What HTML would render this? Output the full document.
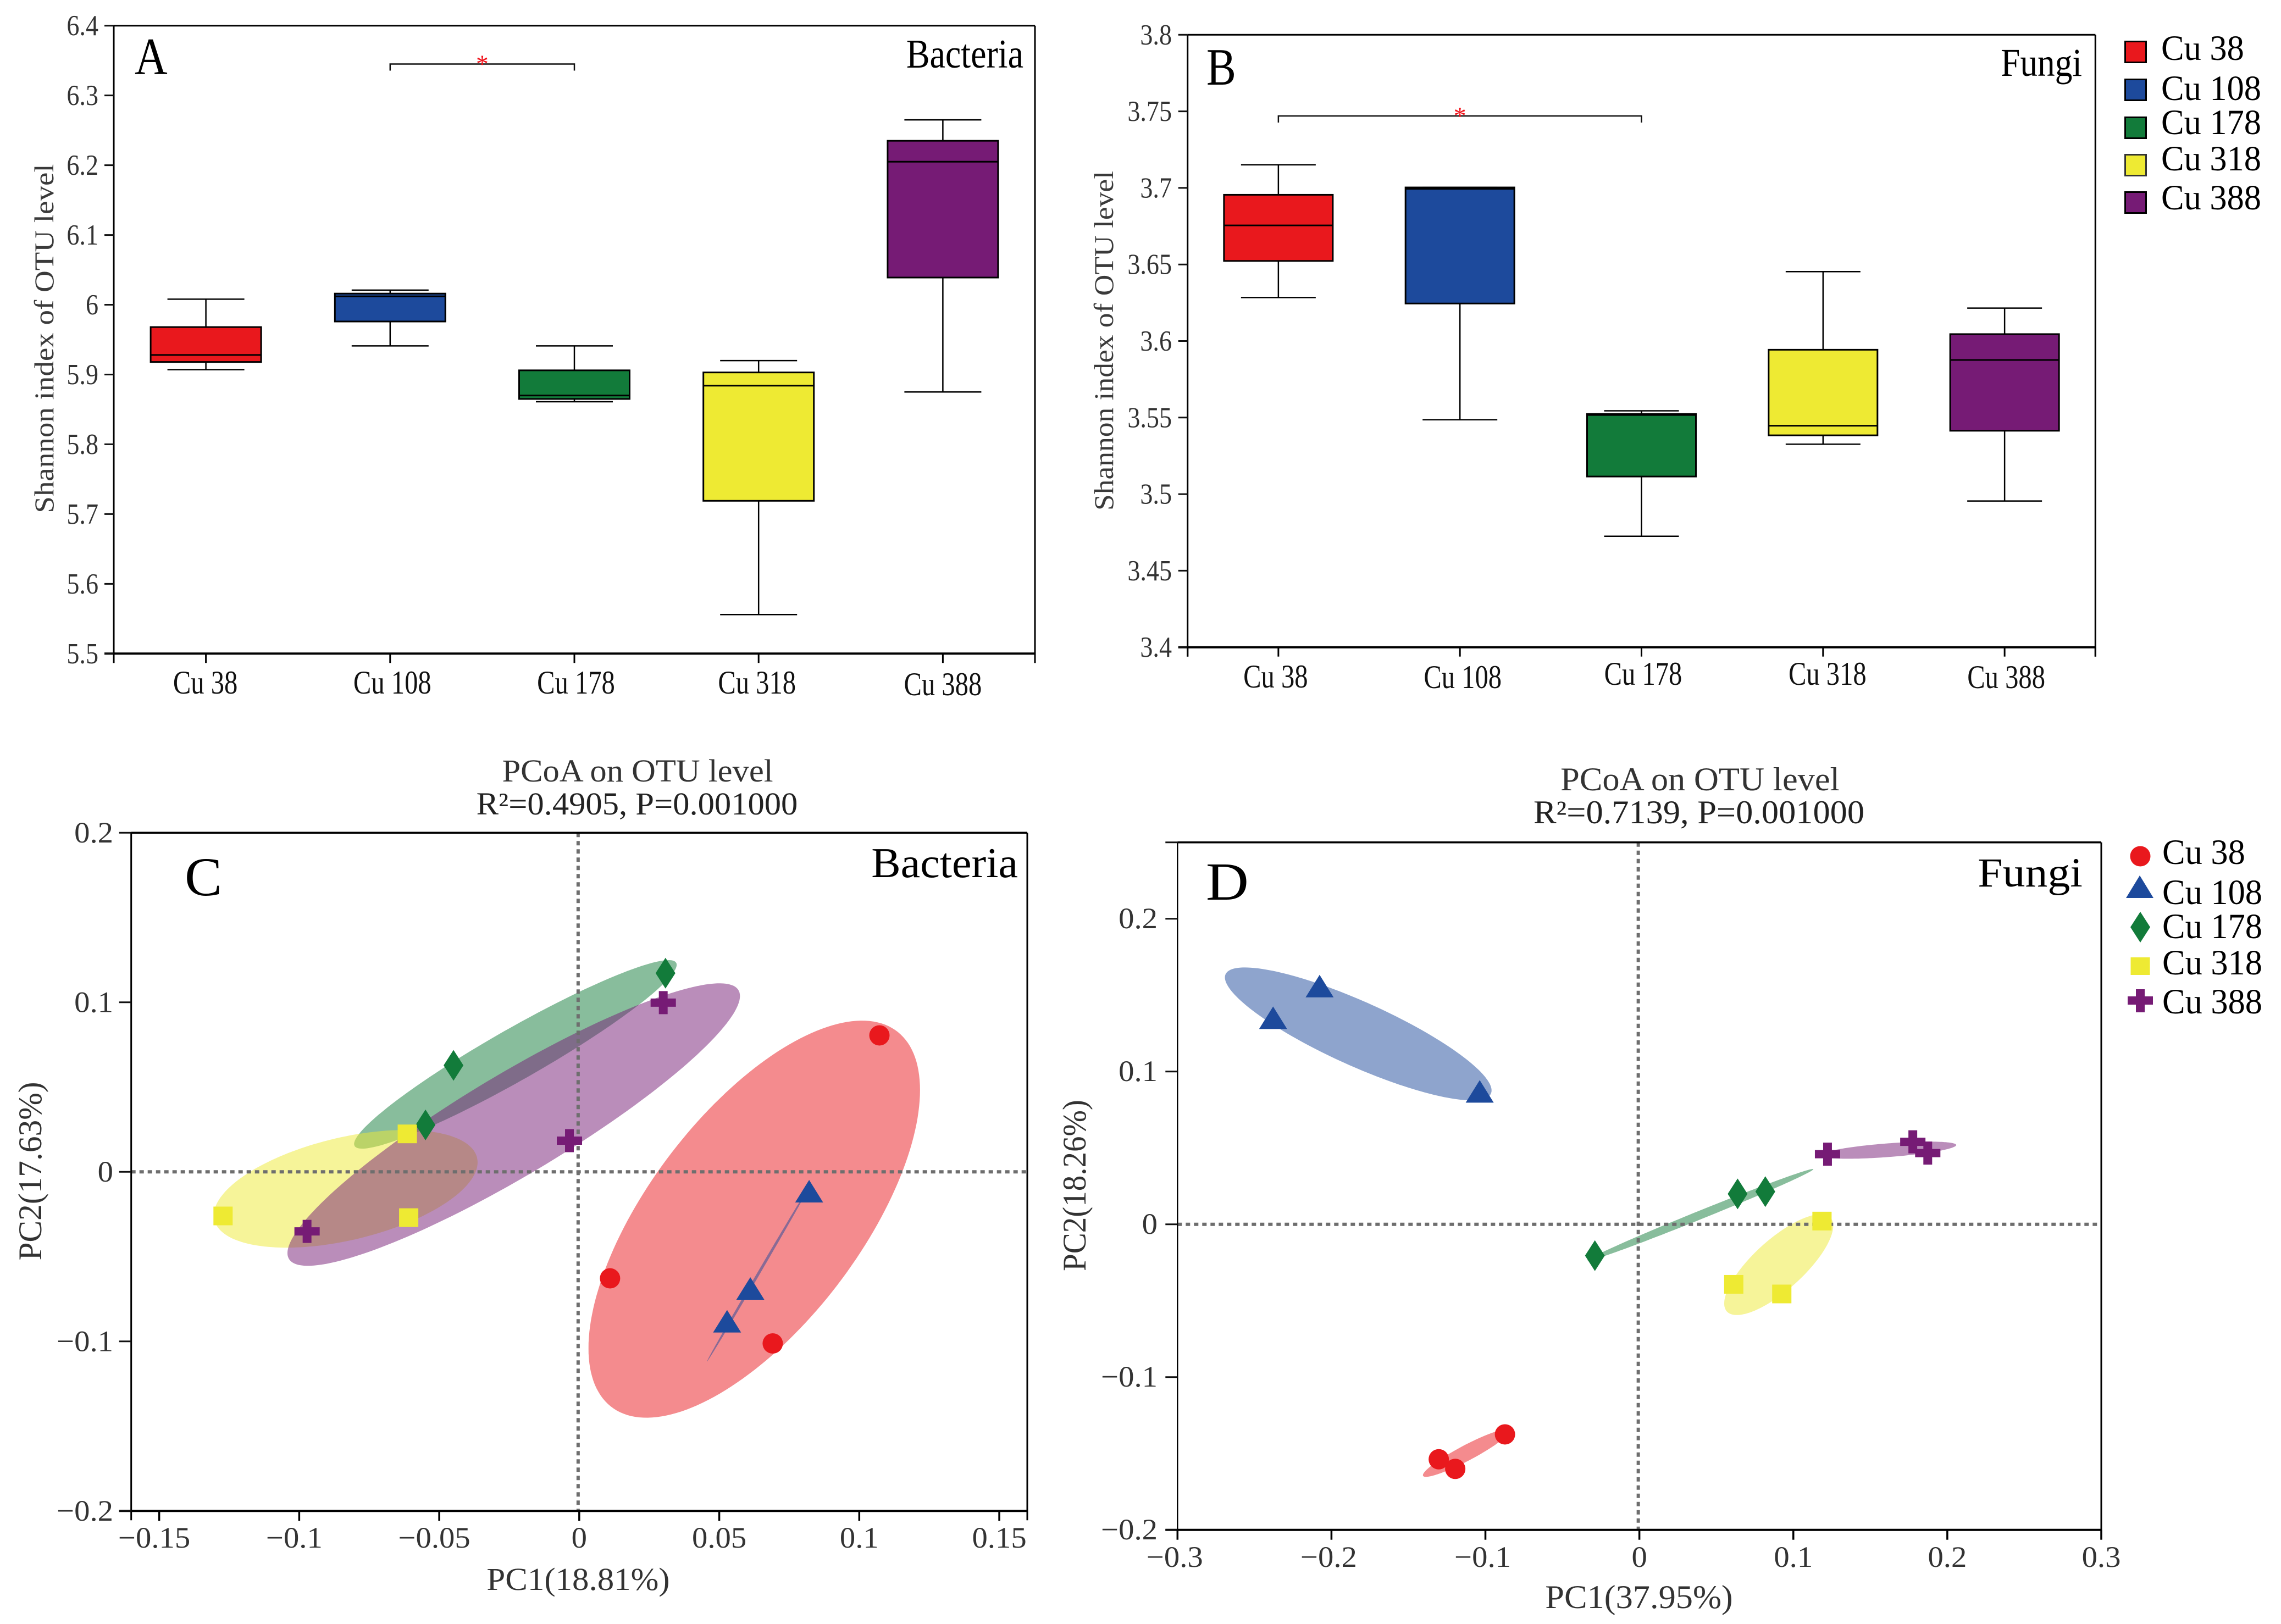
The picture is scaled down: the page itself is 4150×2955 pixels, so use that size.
<!DOCTYPE html>
<html lang="en">
<head>
<meta charset="utf-8">
<title>Shannon index and PCoA of bacteria and fungi across Cu levels</title>
<style>
html,body{margin:0;padding:0;background:#fff;}
svg{display:block;}
text{font-family:"Liberation Serif","DejaVu Serif",serif;}
</style>
</head>
<body>
<svg id="fig" xmlns="http://www.w3.org/2000/svg" width="4150" height="2955" viewBox="0 0 4150 2955">
  <rect x="0" y="0" width="4150" height="2955" fill="#ffffff"/>

  <g id="panelA"></g>
  <g id="panelB"></g>
  <g id="panelC"></g>
  <g id="panelD"></g>

  <!-- Panel A text -->
  <text transform="translate(245,135) scale(0.87,1)" font-size="95" fill="#000">A</text>
  <text transform="translate(1862,123) scale(0.865,1)" font-size="74" text-anchor="end" fill="#000">Bacteria</text>
  <text transform="translate(97,616) rotate(-90) scale(1.1,1)" font-size="50" text-anchor="middle" fill="#3a3a3a">Shannon index of OTU level</text>

  <!-- Panel B text -->
  <text transform="translate(2195,154) scale(0.85,1)" font-size="95" fill="#000">B</text>
  <text transform="translate(3788,138) scale(0.88,1)" font-size="72" text-anchor="end" fill="#000">Fungi</text>
  <text transform="translate(2025,620) rotate(-90) scale(1.07,1)" font-size="50" text-anchor="middle" fill="#3a3a3a">Shannon index of OTU level</text>

  <!-- Boxplot legend -->
  <g>
    <rect x="3866.5" y="75.5" width="38" height="38" fill="#e9181d" stroke="#000" stroke-width="3"/>
    <text transform="translate(3932,109) scale(0.96,1)" font-size="65" fill="#000">Cu 38</text>
    <rect x="3866.5" y="144.5" width="38" height="38" fill="#1d4a9c" stroke="#000" stroke-width="3"/>
    <text transform="translate(3932,182) scale(0.96,1)" font-size="65" fill="#000">Cu 108</text>
    <rect x="3866.5" y="213.5" width="38" height="38" fill="#127b3a" stroke="#000" stroke-width="3"/>
    <text transform="translate(3932,244) scale(0.96,1)" font-size="65" fill="#000">Cu 178</text>
    <rect x="3866.5" y="281.5" width="38" height="38" fill="#eeea33" stroke="#333" stroke-width="3"/>
    <text transform="translate(3932,310) scale(0.96,1)" font-size="65" fill="#000">Cu 318</text>
    <rect x="3866.5" y="349.5" width="38" height="38" fill="#761b75" stroke="#000" stroke-width="3"/>
    <text transform="translate(3932,381) scale(0.96,1)" font-size="65" fill="#000">Cu 388</text>
  </g>

  <!-- Panel C text -->
  <text transform="translate(1160,1422) scale(1.045,1)" font-size="58" text-anchor="middle" fill="#333">PCoA on OTU level</text>
  <text transform="translate(1159,1482) scale(1.045,1)" font-size="58" text-anchor="middle" fill="#222">R²=0.4905, P=0.001000</text>
  <text transform="translate(336,1629) scale(1.02,1)" font-size="100" fill="#000">C</text>
  <text transform="translate(1852,1596) scale(1.04,1)" font-size="77" text-anchor="end" fill="#000">Bacteria</text>
  <text transform="translate(1052,2893) scale(1.05,1)" font-size="58" text-anchor="middle" fill="#333">PC1(18.81%)</text>
  <text transform="translate(75,2131) rotate(-90) scale(0.99,1)" font-size="60" text-anchor="middle" fill="#333">PC2(17.63%)</text>

  <!-- Panel D text -->
  <text transform="translate(3093,1438) scale(1.04,1)" font-size="60" text-anchor="middle" fill="#333">PCoA on OTU level</text>
  <text transform="translate(3091,1498) scale(1.04,1)" font-size="60" text-anchor="middle" fill="#222">R²=0.7139, P=0.001000</text>
  <text transform="translate(2194,1637) scale(1.1,1)" font-size="98" fill="#000">D</text>
  <text transform="translate(3789,1613) scale(1.09,1)" font-size="75" text-anchor="end" fill="#000">Fungi</text>
  <text transform="translate(2982,2926) scale(1.04,1)" font-size="60" text-anchor="middle" fill="#333">PC1(37.95%)</text>
  <text transform="translate(1975,2157) rotate(-90) scale(0.95,1)" font-size="60" text-anchor="middle" fill="#333">PC2(18.26%)</text>

  <!-- PCoA legend -->
  <g>
    <circle cx="3894" cy="1558" r="18.5" fill="#e9181d"/>
    <text transform="translate(3934,1572) scale(0.96,1)" font-size="65" fill="#000">Cu 38</text>
    <polygon points="3893,1593 3868,1634 3918,1634" fill="#1d4a9c"/>
    <text transform="translate(3934,1645) scale(0.96,1)" font-size="65" fill="#000">Cu 108</text>
    <polygon points="3894,1659 3912,1687 3894,1715 3876,1687" fill="#127b3a"/>
    <text transform="translate(3934,1707) scale(0.96,1)" font-size="65" fill="#000">Cu 178</text>
    <rect x="3876.5" y="1742" width="35" height="32" fill="#eeea33"/>
    <text transform="translate(3934,1773) scale(0.96,1)" font-size="65" fill="#000">Cu 318</text>
    <path d="M3886,1800h16v13h15v15h-15v14h-16v-14h-15v-15h15z" fill="#761b75"/>
    <text transform="translate(3934,1844) scale(0.96,1)" font-size="65" fill="#000">Cu 388</text>
  </g>
</svg>

<script>
/* ---------- shared categories ---------- */
const categories = ['Cu 38', 'Cu 108', 'Cu 178', 'Cu 318', 'Cu 388'];
const categorySlugs = ['cu-38', 'cu-108', 'cu-178', 'cu-318', 'cu-388'];

/* ---------- panel A values (Shannon, bacteria) ---------- */
const aLow  = [5.907, 5.941, 5.861, 5.556, 5.875];
const aQ1   = [5.918, 5.976, 5.865, 5.719, 6.039];
const aMed  = [5.928, 6.012, 5.870, 5.884, 6.205];
const aQ3   = [5.968, 6.016, 5.906, 5.903, 6.235];
const aHigh = [6.008, 6.021, 5.941, 5.920, 6.265];
const aTicks = [5.5, 5.6, 5.7, 5.8, 5.9, 6.0, 6.1, 6.2, 6.3, 6.4];
const aTickLabels = ['5.5', '5.6', '5.7', '5.8', '5.9', '6', '6.1', '6.2', '6.3', '6.4'];
const aSigValue = 6.345;
const aSigPair = [1, 2];

/* ---------- panel B values (Shannon, fungi) ---------- */
const bLow  = [3.6284, 3.5486, 3.4725, 3.5326, 3.4955];
const bQ1   = [3.6523, 3.6245, 3.5115, 3.5384, 3.5414];
const bMed  = [3.6755, 3.6994, 3.5517, 3.5447, 3.5876];
const bQ3   = [3.6955, 3.7003, 3.5523, 3.5943, 3.6045];
const bHigh = [3.7151, 3.7003, 3.5544, 3.6453, 3.6215];
const bTicks = [3.4, 3.45, 3.5, 3.55, 3.6, 3.65, 3.7, 3.75, 3.8];
const bTickLabels = ['3.4', '3.45', '3.5', '3.55', '3.6', '3.65', '3.7', '3.75', '3.8'];
const bSigValue = 3.747;
const bSigPair = [0, 2];

/* ---------- panel C values (PCoA, bacteria) ---------- */
const cPc1 = [
  [0.1072, 0.0110, 0.0691],
  [0.0821, 0.0611, 0.0528],
  [0.0308, -0.0449, -0.0549],
  [-0.0614, -0.1272, -0.0609],
  [0.0300, -0.0035, -0.0972]
];
const cPc2 = [
  [0.0805, -0.0628, -0.1012],
  [-0.0114, -0.0688, -0.0881],
  [0.1172, 0.0628, 0.0277],
  [0.0224, -0.0260, -0.0270],
  [0.0998, 0.0184, -0.0351]
];
const cEllCx  = [0.0625, 0.0636, -0.0228, -0.0834, -0.0234];
const cEllCy  = [-0.0279, -0.0611, 0.0693, -0.0100, 0.0279];
const cEllRx  = [0.0592, 0.0180, 0.0576, 0.0471, 0.0808];
const cEllRy  = [0.1171, 0.0508, 0.0556, 0.0347, 0.0833];
const cEllRho = [0.65, 0.9995, 0.95, 0.45, 0.91];
const cXTicks = [-0.15, -0.1, -0.05, 0, 0.05, 0.1, 0.15];
const cXTickLabels = ['\u22120.15', '\u22120.1', '\u22120.05', '0', '0.05', '0.1', '0.15'];
const cYTicks = [-0.2, -0.1, 0, 0.1, 0.2];
const cYTickLabels = ['\u22120.2', '\u22120.1', '0', '0.1', '0.2'];

/* ---------- panel D values (PCoA, fungi) ---------- */
const dPc1 = [
  [-0.0873, -0.1303, -0.1196],
  [-0.2077, -0.2379, -0.1037],
  [0.0638, 0.0818, -0.0289],
  [0.1186, 0.0613, 0.0925],
  [0.1222, 0.1776, 0.1873]
];
const dPc2 = [
  [-0.1375, -0.1538, -0.1601],
  [0.1559, 0.1352, 0.0870],
  [0.0199, 0.0214, -0.0205],
  [0.0021, -0.0393, -0.0456],
  [0.0459, 0.0540, 0.0466]
];
const dEllCx  = [-0.1124, -0.1826, 0.0397, 0.0905, 0.1617];
const dEllCy  = [-0.1497, 0.1246, 0.0062, -0.0264, 0.0485];
const dEllRx  = [0.0282, 0.0866, 0.0733, 0.0354, 0.0441];
const dEllRy  = [0.0156, 0.0435, 0.0300, 0.0330, 0.0056];
const dEllRho = [0.93, -0.85, 0.995, 0.77, 0.6];
const dXTicks = [-0.3, -0.2, -0.1, 0, 0.1, 0.2, 0.3];
const dXTickLabels = ['\u22120.3', '\u22120.2', '\u22120.1', '0', '0.1', '0.2', '0.3'];
const dYTicks = [-0.2, -0.1, 0, 0.1, 0.2, 0.25];
const dYTickLabels = ['\u22120.2', '\u22120.1', '0', '0.1', '0.2', ''];

/* ---------- styling ---------- */
const groupColors = ['#e9181d', '#1d4a9c', '#127b3a', '#eeea33', '#761b75'];
const markerTypes = ['circle', 'triangle', 'diamond', 'square', 'cross'];

const NS = 'http://www.w3.org/2000/svg';

function mk(parent, tag, name, props) {
  const el = document.createElementNS(NS, tag);
  
  
  for (const k in props) { el.setAttribute(k, props[k]); }
  parent.appendChild(el);
  return el;
}
function line(parent, name, x1, y1, x2, y2, w, color) {
  return mk(parent, 'line', name, { x1, y1, x2, y2, stroke: color || '#000', 'stroke-width': w });
}
function label(parent, name, str, x, y, size, sx, anchor, color) {
  const t = mk(parent, 'text', name, {
    transform: 'translate(' + x + ',' + y + ') scale(' + sx + ',1)',
    'font-size': size,
    'text-anchor': anchor,
    fill: color
  });
  t.textContent = str;
  return t;
}
function linear(d0, d1, r0, r1) {
  return function (v) { return r0 + (v - d0) * (r1 - r0) / (d1 - d0); };
}

/* ---------- boxplot panels ---------- */
function drawBoxPanel(opt) {
  const g = document.getElementById(opt.id);
  const y = linear(opt.yMin, opt.yMax, opt.bottom, opt.top);
  const band = (opt.right - opt.left) / categories.length;
  const cx = function (i) { return opt.left + band * (i + 0.5); };

  line(g, 'top-axis-line', opt.left, opt.top, opt.right, opt.top, 3);
  line(g, 'right-axis-line', opt.right, opt.top, opt.right, opt.bottom + 17, 3);
  line(g, 'y-axis-line', opt.left, opt.top, opt.left, opt.bottom + 17, 3);
  line(g, 'x-axis-line', opt.left - 17, opt.bottom, opt.right, opt.bottom, 4);

  opt.ticks.forEach(function (v, i) {
    line(g, 'y-tick', opt.left - 17, y(v), opt.left, y(v), 3, '#111');
    label(g, 'y-tick-label', opt.tickLabels[i], opt.labelRight, y(v) + 17.5, 53, 0.87, 'end', '#333');
  });

  categories.forEach(function (c, i) {
    line(g, 'x-tick', cx(i), opt.bottom, cx(i), opt.bottom + 17, 3);
    label(g, 'x-tick-label', c, cx(i) + opt.catDx[i], opt.catY[i], 60, 0.81, 'middle', '#111');
    const slug = categorySlugs[i];
    const hw = opt.boxW / 2, cw = opt.capW / 2;
    line(g, 'whisker-upper-' + slug, cx(i), y(opt.hi[i]), cx(i), y(opt.q3[i]), 2.5);
    line(g, 'whisker-lower-' + slug, cx(i), y(opt.q1[i]), cx(i), y(opt.lo[i]), 2.5);
    line(g, 'cap-upper-' + slug, cx(i) - cw, y(opt.hi[i]), cx(i) + cw, y(opt.hi[i]), 2.5);
    line(g, 'cap-lower-' + slug, cx(i) - cw, y(opt.lo[i]), cx(i) + cw, y(opt.lo[i]), 2.5);
    mk(g, 'rect', 'box-' + slug, {
      x: cx(i) - hw, y: y(opt.q3[i]), width: opt.boxW, height: y(opt.q1[i]) - y(opt.q3[i]),
      fill: groupColors[i], stroke: '#000', 'stroke-width': 3
    });
    line(g, 'median-' + slug, cx(i) - hw, y(opt.med[i]), cx(i) + hw, y(opt.med[i]), 3);
  });

  line(g, 'axis-end-tick-left', opt.left, opt.bottom, opt.left, opt.bottom + 17, 3);
  line(g, 'axis-end-tick-right', opt.right, opt.bottom, opt.right, opt.bottom + 17, 3);

  const x1 = cx(opt.sigPair[0]), x2 = cx(opt.sigPair[1]), ys = y(opt.sigValue);
  mk(g, 'path', 'significance-bracket', {
    d: 'M' + x1 + ' ' + (ys + 12) + 'V' + ys + 'H' + x2 + 'V' + (ys + 12),
    fill: 'none', stroke: '#111', 'stroke-width': 2.5
  });
  label(g, 'significance-star', '*', (x1 + x2) / 2, ys + 15, 46, 1, 'middle', '#f01018');
}

drawBoxPanel({
  id: 'panelA', left: 207, right: 1883, top: 46.7, bottom: 1189.3,
  yMin: 5.5, yMax: 6.4, ticks: aTicks, tickLabels: aTickLabels, labelRight: 179,
  lo: aLow, q1: aQ1, med: aMed, q3: aQ3, hi: aHigh,
  boxW: 201, capW: 140, catDx: [-1, 4, 3, -3, 0], catY: [1262, 1262, 1262, 1262, 1265],
  sigValue: aSigValue, sigPair: aSigPair
});
drawBoxPanel({
  id: 'panelB', left: 2160.7, right: 3812.3, top: 63.3, bottom: 1177.7,
  yMin: 3.4, yMax: 3.8, ticks: bTicks, tickLabels: bTickLabels, labelRight: 2132,
  lo: bLow, q1: bQ1, med: bMed, q3: bQ3, hi: bHigh,
  boxW: 198, capW: 136, catDx: [-5, 5, 3, 8, 3], catY: [1251, 1252, 1246, 1246, 1252],
  sigValue: bSigValue, sigPair: bSigPair
});

/* ---------- PCoA panels ---------- */
function drawMarker(g, type, name, px, py, color) {
  if (type === 'circle') {
    mk(g, 'circle', name, { cx: px, cy: py, r: 18.5, fill: color });
  } else if (type === 'triangle') {
    mk(g, 'polygon', name, { points: px + ',' + (py - 20.5) + ' ' + (px - 25.5) + ',' + (py + 20.5) + ' ' + (px + 25.5) + ',' + (py + 20.5), fill: color });
  } else if (type === 'diamond') {
    mk(g, 'polygon', name, { points: px + ',' + (py - 28) + ' ' + (px + 18) + ',' + py + ' ' + px + ',' + (py + 28) + ' ' + (px - 18) + ',' + py, fill: color });
  } else if (type === 'square') {
    mk(g, 'rect', name, { x: px - 17.5, y: py - 17, width: 35, height: 34, fill: color });
  } else {
    mk(g, 'path', name, {
      d: 'M' + (px - 8) + ' ' + (py - 21) + 'h16v13.5h15v15h-15v13.5h-16v-13.5h-15v-15h15z',
      fill: color
    });
  }
}

function drawScatterPanel(opt) {
  const g = document.getElementById(opt.id);
  const x = linear(opt.xMin, opt.xMax, opt.left, opt.right);
  const y = linear(opt.yMin, opt.yMax, opt.bottom, opt.top);

  categories.forEach(function (c, i) {
    const pts = [];
    const phase = Math.acos(opt.rho[i]);
    for (let k = 0; k < 180; k++) {
      const t = k / 180 * 2 * Math.PI;
      const dx = opt.ex[i] + opt.erx[i] * Math.cos(t);
      const dy = opt.ey[i] + opt.ery[i] * Math.cos(t - phase);
      pts.push(x(dx).toFixed(1) + ',' + y(dy).toFixed(1));
    }
    mk(g, 'polygon', 'confidence-ellipse-' + categorySlugs[i], {
      points: pts.join(' '), fill: groupColors[i], 'fill-opacity': 0.5
    });
  });

  line(g, 'zero-line-vertical', x(0) - 2, opt.top, x(0) - 2, opt.bottom, 6, '#6e6e6e').setAttribute('stroke-dasharray', '8 7');
  line(g, 'zero-line-horizontal', opt.left, y(0), opt.right, y(0), 6, '#6e6e6e').setAttribute('stroke-dasharray', '8 7');

  line(g, 'top-axis-line', opt.left, opt.top, opt.right, opt.top, 3.5);
  line(g, 'right-axis-line', opt.right, opt.top, opt.right, opt.bottom + 17, 3);
  line(g, 'y-axis-line', opt.left, opt.top, opt.left, opt.bottom + 17, opt.yAxisW);
  line(g, 'x-axis-line', opt.left - 22, opt.bottom, opt.right, opt.bottom, 4);

  opt.yTicks.forEach(function (v, i) {
    line(g, 'y-tick', opt.left - 22, y(v), opt.left, y(v), 3, '#111');
    if (opt.yLabels[i]) {
      label(g, 'y-tick-label', opt.yLabels[i], opt.yLabelRight, y(v) + 17.5, 54, 1.05, 'end', '#333');
    }
  });
  opt.xTicks.forEach(function (v, i) {
    line(g, 'x-tick', x(v), opt.bottom, x(v), opt.bottom + 18, 3.5);
    label(g, 'x-tick-label', opt.xLabels[i], x(v) + (v < 0 ? opt.negDx : 0), opt.xLabelY, 54, 1.05, 'middle', '#333');
  });

  categories.forEach(function (c, i) {
    opt.px[i].forEach(function (v, j) {
      drawMarker(g, markerTypes[i], 'point-' + categorySlugs[i] + '-' + (j + 1), x(v), y(opt.py[i][j]), groupColors[i]);
    });
  });
}

drawScatterPanel({
  id: 'panelC', left: 238.7, right: 1869, top: 1515.3, bottom: 2749.3,
  xMin: -0.16, xMax: 0.16, yMin: -0.2, yMax: 0.2,
  xTicks: cXTicks, xLabels: cXTickLabels, yTicks: cYTicks, yLabels: cYTickLabels,
  px: cPc1, py: cPc2, ex: cEllCx, ey: cEllCy, erx: cEllRx, ery: cEllRy, rho: cEllRho,
  yLabelRight: 206, xLabelY: 2816, negDx: -9, yAxisW: 3
});
drawScatterPanel({
  id: 'panelD', left: 2142.3, right: 3823, top: 1532.7, bottom: 2783.7,
  xMin: -0.3, xMax: 0.3, yMin: -0.2, yMax: 0.25,
  xTicks: dXTicks, xLabels: dXTickLabels, yTicks: dYTicks, yLabels: dYTickLabels,
  px: dPc1, py: dPc2, ex: dEllCx, ey: dEllCy, erx: dEllRx, ery: dEllRy, rho: dEllRho,
  yLabelRight: 2106, xLabelY: 2851, negDx: -5, yAxisW: 2.5
});
</script>
</body>
</html>
